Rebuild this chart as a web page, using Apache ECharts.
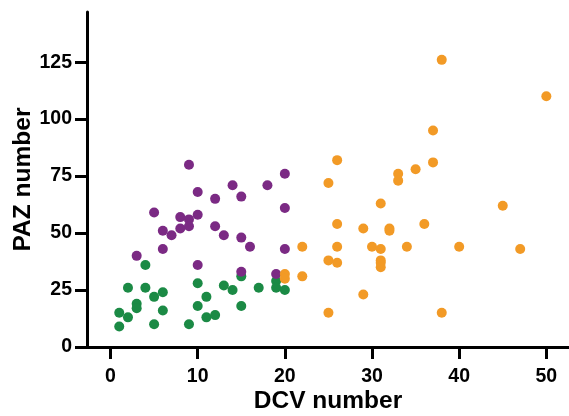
<!DOCTYPE html>
<html>
<head>
<meta charset="utf-8">
<script src="https://cdn.jsdelivr.net/npm/echarts@6/dist/echarts.min.js"></script>
<style>html,body{margin:0;padding:0;background:#fff}#c{width:569px;height:416px}</style>
</head>
<body>
<div id="c"></div>
<script>
var xTicks = [0, 10, 20, 30, 40, 50];
var yTicks = [0, 25, 50, 75, 100, 125];

var greenX = [4,2,4,5,6,3,3,1,2,1,5,6,9,10,10,11,11,12,13,14,15,15,17,19,19,20];
var greenY = [36,26,26,22,24,19,17,15,13,9,10,16,10,28,18,22,13,14,27,25,31,18,26,29,26,25];

var purpleX = [9,20,14,18,10,12,15,5,20,8,9,10,9,8,6,7,12,13,15,16,20,6,3,10,15,19];
var purpleY = [80,76,71,71,68,65,66,59,61,57,56,58,53,52,51,49,53,49,48,44,43,43,40,36,33,32];

var orangeX = [38,50,37,26,37,35,33,33,25,31,45,26,29,32,32,36,22,26,30,31,34,40,47,25,26,31,31,31,22,29,25,38,20,20];
var orangeY = [126,110,95,82,81,78,76,73,72,63,62,54,52,52,51,54,44,44,44,43,44,44,43,38,37,38,37,35,31,23,15,15,32,30];

function pts(xs, ys) { return xs.map(function (x, i) { return [x, ys[i]]; }); }

var chart = echarts.init(document.getElementById('c'), null, {renderer: 'canvas'});
var font = 'Liberation Sans, Arial, Helvetica, sans-serif';
chart.setOption({
  animation: false,
  grid: {left: 87, right: 0, top: 12, bottom: 69, containLabel: false, outerBoundsMode: 'none'},
  xAxis: {
    type: 'value', min: -2.7, max: 52.6,
    name: 'DCV number', nameLocation: 'middle', nameGap: 42, nameMoveOverlap: false,
    nameTextStyle: {fontFamily: font, fontWeight: 'bold', fontSize: 24.5, color: '#000'},
    axisLine: {show: true, onZero: false, lineStyle: {color: '#000', width: 3}},
    axisTick: {show: true, length: 12, lineStyle: {color: '#000', width: 3}, customValues: xTicks},
    axisLabel: {fontFamily: font, fontWeight: 'bold', fontSize: 19.5, color: '#000', margin: 20, customValues: xTicks},
    splitLine: {show: false}
  },
  yAxis: {
    type: 'value', min: 0, max: 147,
    name: 'PAZ number', nameLocation: 'middle', nameGap: 51, nameRotate: 90, nameMoveOverlap: false,
    nameTextStyle: {fontFamily: font, fontWeight: 'bold', fontSize: 24.5, color: '#000'},
    axisLine: {show: true, onZero: false, lineStyle: {color: '#000', width: 3}},
    axisTick: {show: true, length: 12, lineStyle: {color: '#000', width: 3}, customValues: yTicks},
    axisLabel: {fontFamily: font, fontWeight: 'bold', fontSize: 19.5, color: '#000', margin: 15, customValues: yTicks},
    splitLine: {show: false}
  },
  series: [
    {type: 'scatter', data: pts(greenX, greenY), symbolSize: 10, itemStyle: {color: '#1B8A45', opacity: 1}},
    {type: 'scatter', data: pts(purpleX, purpleY), symbolSize: 10, itemStyle: {color: '#7B2A84', opacity: 1}},
    {type: 'scatter', data: pts(orangeX, orangeY), symbolSize: 10, itemStyle: {color: '#F29A26', opacity: 1}}
  ]
});
</script>
</body>
</html>
